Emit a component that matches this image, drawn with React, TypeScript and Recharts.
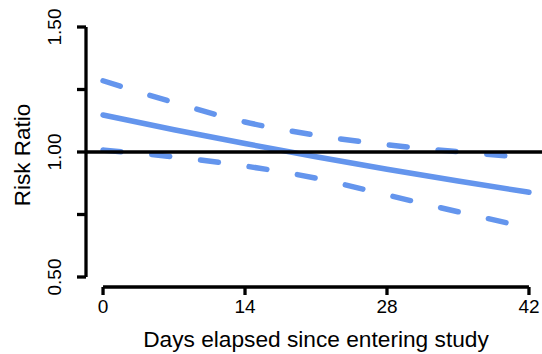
import React from "react";
import { LineChart, Line, XAxis, YAxis, ReferenceLine } from "recharts";

const days = [0, 7, 14, 21, 28, 35, 42];
const estimate = [1.148, 1.089, 1.034, 0.981, 0.931, 0.884, 0.839];
const upper = [1.285, 1.198, 1.12, 1.067, 1.029, 1.001, 0.977];
const lower = [1.008, 0.98, 0.944, 0.895, 0.828, 0.761, 0.697];

const xTicks = [0, 14, 28, 42];
const yTicks = [0.5, 0.75, 1, 1.25, 1.5];
const yLabels = ["0.50", "", "1.00", "", "1.50"];

const data = days.map((d, i) => ({
  day: d,
  est: estimate[i],
  hi: upper[i],
  lo: lower[i],
}));

const FONT = "'Liberation Sans', Arial, sans-serif";
const BLUE = "#6495ED";
const AXIS_W = 3.3;

// eslint-disable-next-line @typescript-eslint/no-explicit-any
const YTick = (props: any) => {
  const { y, payload } = props;
  const idx = yTicks.indexOf(payload.value);
  const label = idx >= 0 ? yLabels[idx] : "";
  if (!label) return null;
  return (
    <text
      x={54}
      y={y}
      transform={`rotate(-90 54 ${y})`}
      textAnchor="middle"
      dominantBaseline="central"
      fontSize={19}
      fontFamily={FONT}
      fill="#000"
    >
      {label}
    </text>
  );
};

export default function App() {
  return (
    <div
      style={{
        position: "absolute",
        left: 0,
        top: 0,
        width: 542,
        height: 354,
        overflow: "hidden",
        background: "#fff",
        fontFamily: FONT,
      }}
    >
      <LineChart
        width={560}
        height={354}
        data={data}
        margin={{ top: 17, right: 14, bottom: 0, left: 0 }}
      >
        <XAxis
          dataKey="day"
          type="number"
          domain={[-1.68, 43.68]}
          allowDataOverflow
          ticks={xTicks}
          height={67}
          axisLine={false}
          tickLine={{ stroke: "#000", strokeWidth: AXIS_W }}
          tickSize={8}
          tickMargin={5}
          tick={{ fill: "#000", fontSize: 19, fontFamily: FONT }}
          label={{
            value: "Days elapsed since entering study",
            position: "insideBottom",
            offset: 7,
            fill: "#000",
            fontSize: 22.7,
            fontFamily: FONT,
          }}
        />
        <YAxis
          type="number"
          domain={[0.46, 1.54]}
          allowDataOverflow
          ticks={yTicks}
          width={86}
          axisLine={false}
          tickLine={{ stroke: "#000", strokeWidth: AXIS_W }}
          tickSize={9}
          tick={<YTick />}
          label={{
            content: () => (
              <text
                x={22}
                y={155}
                transform="rotate(-90 22 155)"
                textAnchor="middle"
                dominantBaseline="central"
                fontSize={22.5}
                fontFamily={FONT}
                fill="#000"
              >
                Risk Ratio
              </text>
            ),
          }}
        />
        <Line
          dataKey="hi"
          type="monotone"
          stroke={BLUE}
          strokeWidth={5.5}
          strokeDasharray="18 31"
          strokeLinecap="round"
          dot={false}
          activeDot={false}
          isAnimationActive={false}
        />
        <Line
          dataKey="lo"
          type="monotone"
          stroke={BLUE}
          strokeWidth={5.5}
          strokeDasharray="18 31"
          strokeLinecap="round"
          dot={false}
          activeDot={false}
          isAnimationActive={false}
        />
        <Line
          dataKey="est"
          type="monotone"
          stroke={BLUE}
          strokeWidth={5.5}
          strokeLinecap="round"
          dot={false}
          activeDot={false}
          isAnimationActive={false}
        />
        <ReferenceLine y={1} stroke="#000" strokeWidth={AXIS_W} />
        <ReferenceLine
          segment={[
            { x: -1.68, y: 0.5 },
            { x: -1.68, y: 1.5 },
          ]}
          stroke="#000"
          strokeWidth={AXIS_W}
        />
        <ReferenceLine
          segment={[
            { x: 0, y: 0.46 },
            { x: 42, y: 0.46 },
          ]}
          stroke="#000"
          strokeWidth={AXIS_W}
        />
      </LineChart>
    </div>
  );
}
